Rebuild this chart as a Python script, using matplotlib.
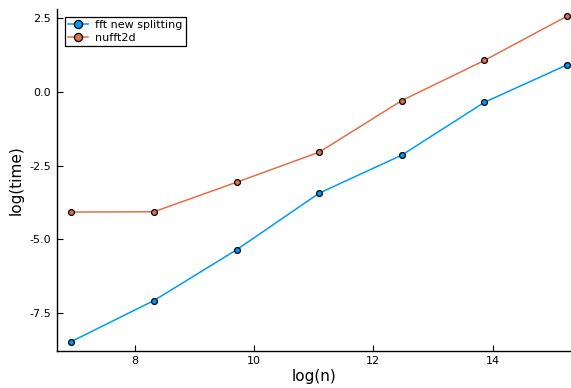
import numpy as np
import matplotlib
matplotlib.use("Agg")
import matplotlib.pyplot as plt

# log(n) for n = 1024 * 4^k
log_n = [6.931, 8.318, 9.704, 11.090, 12.477, 13.863, 15.249]
fft_new_splitting = [-8.46, -7.07, -5.35, -3.43, -2.14, -0.35, 0.92]
nufft2d = [-4.07, -4.06, -3.06, -2.04, -0.29, 1.07, 2.57]

series_labels = ["fft new splitting", "nufft2d"]
series_colors = ["#009AFA", "#E36F47"]

x_ticks = [8, 10, 12, 14]
y_ticks = [-7.5, -5.0, -2.5, 0.0, 2.5]
y_tick_labels = ["-7.5", "-5.0", "-2.5", "0.0", "2.5"]

plt.rcParams["font.family"] = ["DejaVu Sans"]
plt.rcParams["axes.unicode_minus"] = False

W, H = 571, 388
fig = plt.figure(figsize=(W / 100, H / 100), dpi=100)
left_px, right_px, bottom_px, top_px = 56.7, 571, 350.7, 9.4
ax = fig.add_axes([left_px / W, 1 - bottom_px / H,
                   (right_px - left_px) / W, (bottom_px - top_px) / H])

for ys, lab, col in zip([fft_new_splitting, nufft2d], series_labels, series_colors):
    ax.plot(log_n, ys, color=col, lw=1.1, marker="o", ms=4.2,
            mfc=col, mec="black", mew=0.9, label=lab)

ax.set_xlim(6.686, 15.316)
ax.set_ylim(-8.77, 2.80)
ax.set_xticks(x_ticks)
ax.set_yticks(y_ticks)
ax.set_yticklabels(y_tick_labels)
ax.tick_params(direction="in", length=4, width=0.8, labelsize=8, pad=4)

for side in ["top", "right"]:
    ax.spines[side].set_visible(False)
for side in ["left", "bottom"]:
    ax.spines[side].set_linewidth(1.0)

ax.set_xlabel("log(n)", fontsize=11, labelpad=2)
ax.set_ylabel("log(time)", fontsize=11, labelpad=4)

leg = ax.legend(loc="upper left", fontsize=8, frameon=True, fancybox=False,
                edgecolor="black", framealpha=1, borderpad=0.3,
                handlelength=1.8, handletextpad=0.6, labelspacing=0.25,
                markerscale=1.4, bbox_to_anchor=(0.005, 0.995))
leg.get_frame().set_linewidth(0.9)

fig.savefig("out.png", dpi=100)
